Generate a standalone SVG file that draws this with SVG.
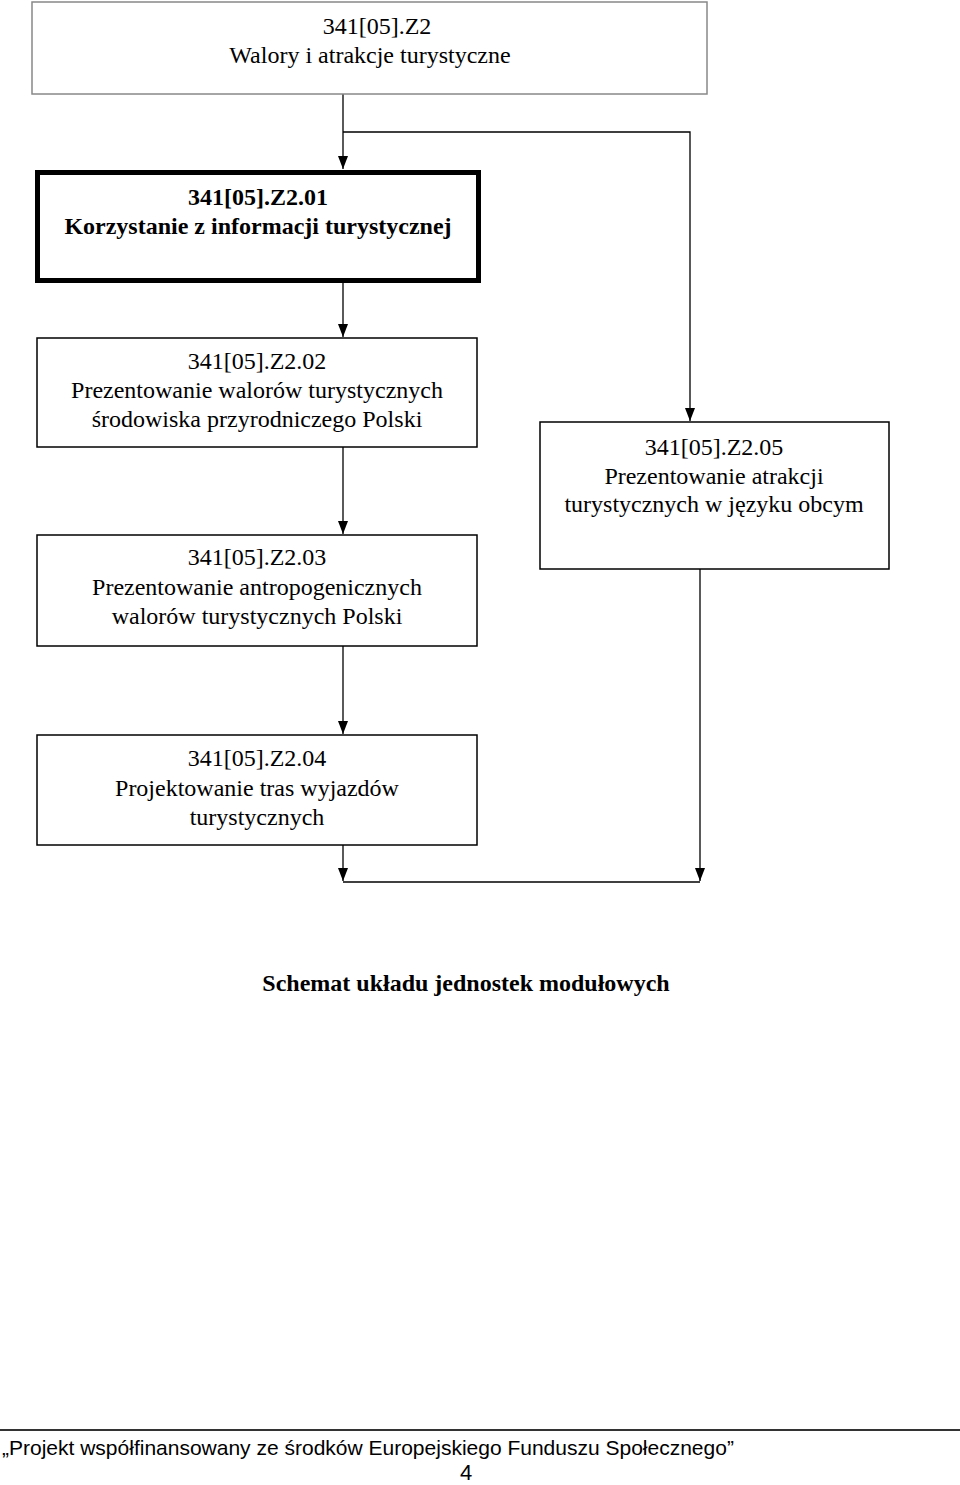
<svg xmlns="http://www.w3.org/2000/svg" width="960" height="1485" viewBox="0 0 960 1485">
<style>
.t{font-family:"Liberation Serif","Times New Roman",serif;font-size:24px;fill:#000;text-anchor:middle}
.b{font-weight:bold}
.box{fill:#fff;stroke:#000;stroke-width:1.5}
.c{fill:none;stroke:#000;stroke-width:1.3}
.f{font-family:"Liberation Sans",Arial,sans-serif;fill:#000}
</style>
<defs>
<marker id="ar" viewBox="0 0 13 10" refX="13" refY="5" markerWidth="13" markerHeight="10" markerUnits="userSpaceOnUse" orient="auto">
<path d="M0,0 L13,5 L0,10 Z" fill="#000"/>
</marker>
</defs>
<rect width="960" height="1485" fill="#fff"/>
<g id="connectors">
<line class="c" x1="343" y1="94" x2="343" y2="169" marker-end="url(#ar)"/>
<polyline class="c" points="343,132 690,132 690,421" marker-end="url(#ar)"/>
<line class="c" x1="343" y1="282" x2="343" y2="337" marker-end="url(#ar)"/>
<line class="c" x1="343" y1="447" x2="343" y2="534" marker-end="url(#ar)"/>
<line class="c" x1="343" y1="646" x2="343" y2="734" marker-end="url(#ar)"/>
<line class="c" x1="343" y1="845" x2="343" y2="881" marker-end="url(#ar)"/>
<line class="c" x1="700" y1="569" x2="700" y2="881" marker-end="url(#ar)"/>
<line class="c" x1="343" y1="882" x2="700" y2="882" stroke-width="2"/>
</g>
<g id="n0">
<rect x="32" y="2" width="675" height="92" fill="#fff" stroke="#888" stroke-width="1.5"/>
<text class="t" x="377" y="34">341[05].Z2</text>
<text class="t" x="370" y="63">Walory i atrakcje turystyczne</text>
</g>
<g id="n1">
<rect x="37.5" y="172.5" width="441" height="108" fill="#fff" stroke="#000" stroke-width="5"/>
<text class="t b" x="258" y="205">341[05].Z2.01</text>
<text class="t b" x="258" y="234">Korzystanie z informacji turystycznej</text>
</g>
<g id="n2">
<rect class="box" x="37" y="338" width="440" height="109"/>
<text class="t" x="257" y="369">341[05].Z2.02</text>
<text class="t" x="257" y="398">Prezentowanie walorów turystycznych</text>
<text class="t" x="257" y="427">środowiska przyrodniczego Polski</text>
</g>
<g id="n3">
<rect class="box" x="37" y="535" width="440" height="111"/>
<text class="t" x="257" y="565">341[05].Z2.03</text>
<text class="t" x="257" y="595">Prezentowanie antropogenicznych</text>
<text class="t" x="257" y="624">walorów turystycznych Polski</text>
</g>
<g id="n4">
<rect class="box" x="37" y="735" width="440" height="110"/>
<text class="t" x="257" y="766">341[05].Z2.04</text>
<text class="t" x="257" y="796">Projektowanie tras wyjazdów</text>
<text class="t" x="257" y="825">turystycznych</text>
</g>
<g id="n5">
<rect class="box" x="540" y="422" width="349" height="147"/>
<text class="t" x="714" y="455">341[05].Z2.05</text>
<text class="t" x="714" y="484">Prezentowanie atrakcji</text>
<text class="t" x="714" y="512">turystycznych w języku obcym</text>
</g>
<text class="t b" x="466" y="991" font-size="24.5">Schemat układu jednostek modułowych</text>
<line x1="0" y1="1430" x2="960" y2="1430" stroke="#333" stroke-width="2"/>
<text class="f" x="2" y="1455" font-size="21">„Projekt współfinansowany ze środków Europejskiego Funduszu Społecznego”</text>
<text class="f" x="466" y="1480" font-size="22" text-anchor="middle">4</text>
</svg>
